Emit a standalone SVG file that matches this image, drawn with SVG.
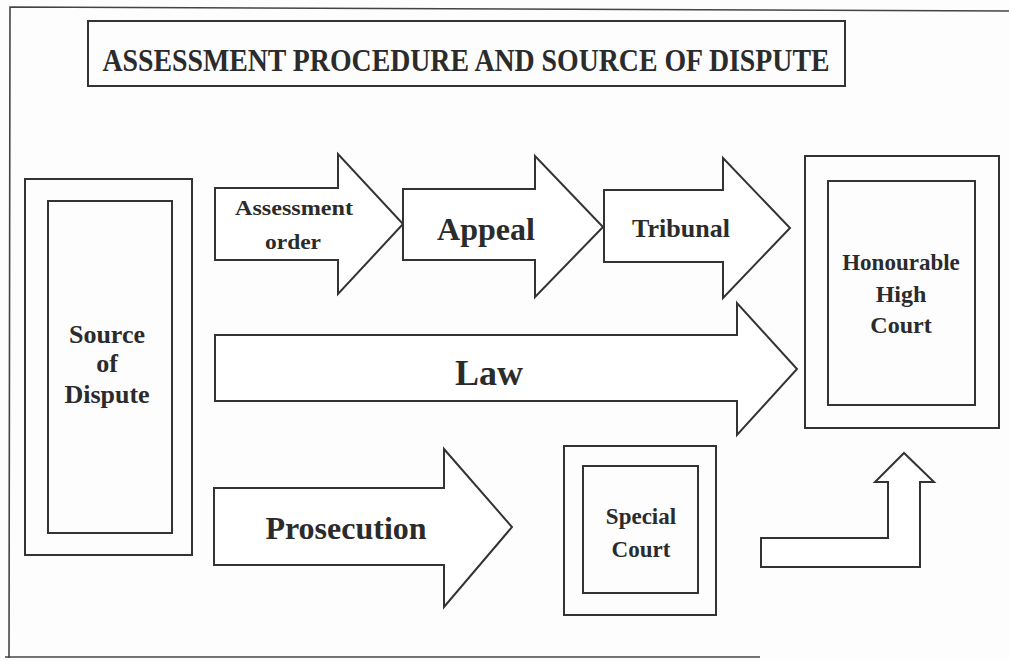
<svg xmlns="http://www.w3.org/2000/svg" width="1009" height="661" viewBox="0 0 1009 661">
<style>
.ln{fill:#fff;stroke:#333;stroke-width:2;stroke-linejoin:miter}
.bx{fill:none;stroke:#333;stroke-width:2}
.t{font-family:"Liberation Serif","Times New Roman",serif;font-weight:bold;fill:#2b2b2b;text-anchor:middle}
</style>
<rect width="1009" height="661" fill="#fdfdfd"/>
<g id="page-border" fill="none" stroke="#444" stroke-width="1.6">
<path d="M9,658 L10,7 L1009,11"/>
<path d="M5,657 L760,657"/>
</g>
<g id="title">
<rect class="bx" x="88" y="21" width="757" height="65"/>
<text class="t" x="466" y="71" font-size="31" textLength="727" lengthAdjust="spacingAndGlyphs">ASSESSMENT PROCEDURE AND SOURCE OF DISPUTE</text>
</g>
<g id="source-of-dispute">
<rect class="bx" x="25" y="179" width="167" height="376"/>
<rect class="bx" x="48" y="201" width="124" height="332"/>
<text class="t" x="107" y="343" font-size="26">Source</text>
<text class="t" x="107" y="372" font-size="26">of</text>
<text class="t" x="107" y="403" font-size="26">Dispute</text>
</g>
<g id="connectors">
<g id="arrow-assessment">
<path class="ln" d="M215,188 L338,188 L338,154 L403,224 L338,294 L338,260 L215,260 Z"/>
<text class="t" x="294" y="215" font-size="21" textLength="118" lengthAdjust="spacingAndGlyphs">Assessment</text>
<text class="t" x="293" y="249" font-size="22" textLength="56" lengthAdjust="spacingAndGlyphs">order</text>
</g>
<g id="arrow-appeal">
<path class="ln" d="M403,189 L535,189 L535,156 L603,227 L535,297 L535,260 L403,260 Z"/>
<text class="t" x="486" y="240" font-size="32">Appeal</text>
</g>
<g id="arrow-tribunal">
<path class="ln" d="M604,190 L723,190 L723,158 L790,228 L723,298 L723,262 L604,262 Z"/>
<text class="t" x="681" y="237" font-size="26">Tribunal</text>
</g>
<g id="arrow-law">
<path class="ln" d="M215,335 L737,335 L737,303 L797,369 L737,435 L737,401 L215,401 Z"/>
<text class="t" x="489" y="385" font-size="36">Law</text>
</g>
<g id="arrow-prosecution">
<path class="ln" d="M214,488 L444,488 L444,449 L512,527 L444,607 L444,565 L214,565 Z"/>
<text class="t" x="346" y="539" font-size="32">Prosecution</text>
</g>
<g id="arrow-special-to-high">
<path class="ln" d="M761,538 L888,538 L888,482 L875,482 L904,453 L934,482 L920,482 L920,567 L761,567 Z"/>
</g>
</g>
<g id="high-court">
<rect class="bx" x="805" y="156" width="194" height="272"/>
<rect class="bx" x="828" y="181" width="147" height="224"/>
<text class="t" x="901" y="270" font-size="23">Honourable</text>
<text class="t" x="901" y="302" font-size="24">High</text>
<text class="t" x="901" y="333" font-size="24">Court</text>
</g>
<g id="special-court">
<rect class="bx" x="564" y="446" width="152" height="169"/>
<rect class="bx" x="583" y="466" width="115" height="127"/>
<text class="t" x="641" y="524" font-size="23">Special</text>
<text class="t" x="641" y="557" font-size="23">Court</text>
</g>
</svg>
